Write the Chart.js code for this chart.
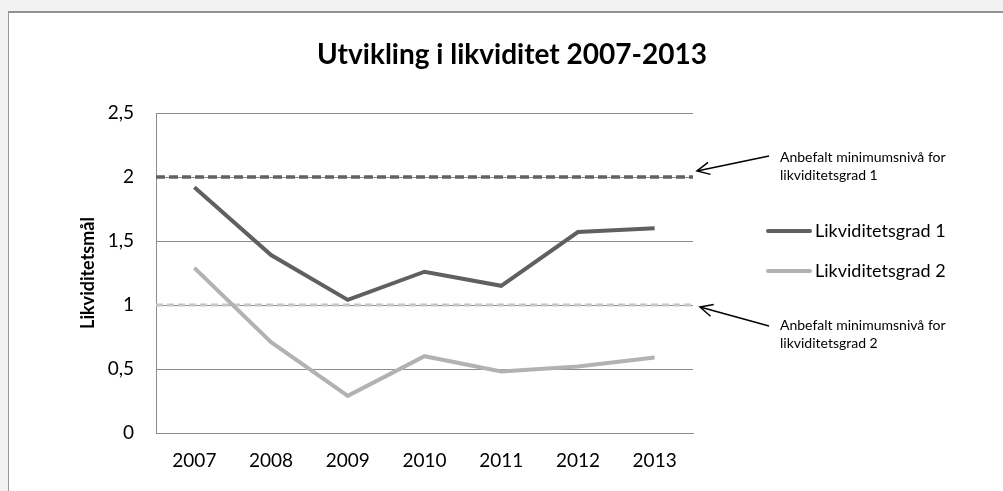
<!DOCTYPE html>
<html>
<head>
<meta charset="utf-8">
<script src="https://cdn.jsdelivr.net/npm/chart.js@4.4.1/dist/chart.umd.min.js"></script>
<style>
  html, body { margin: 0; padding: 0; overflow: hidden; background: #f2f2f2; }
  body { width: 100vw; height: 100vh; position: relative; }
  .frame { position: absolute; left: 8px; top: 11px; right: -30px; bottom: -30px; background: #fff;
    border-left: 1px solid #9a9a9a; border-top: 2px solid #929292; }
  .wrap { position: absolute; left: 0; top: 0; width: 1003px; height: 491px; }
</style>
</head>
<body>
<div class="frame"></div>
<div class="wrap"><canvas id="myChart"></canvas></div>
<script>
const years = [2007, 2008, 2009, 2010, 2011, 2012, 2013];
const grad1 = [1.92, 1.39, 1.04, 1.26, 1.15, 1.57, 1.60];
const grad2 = [1.29, 0.71, 0.29, 0.60, 0.48, 0.52, 0.59];
const seriesNames = ["Likviditetsgrad 1", "Likviditetsgrad 2"];
const minLevel1 = 2;
const minLevel2 = 1;
const yTicks = [0, 0.5, 1, 1.5, 2, 2.5];
const title = "Utvikling i likviditet 2007-2013";
const yTitle = "Likviditetsmål";
const note1 = ["Anbefalt minimumsnivå for", "likviditetsgrad 1"];
const note2 = ["Anbefalt minimumsnivå for", "likviditetsgrad 2"];

const font = "Lato, 'Open Sans', sans-serif";
const xMin = years[0] - 0.5;
const xMax = years[years.length - 1] + 0.5;

function points(vals) {
  return years.map((y, i) => ({ x: y, y: vals[i] }));
}

// title, legend and the two arrow notes
const decor = {
  id: "decor",
  afterDraw(chart) {
    const ctx = chart.ctx;
    const area = chart.chartArea;
    const ys = chart.scales.y;
    ctx.save();
    ctx.fillStyle = "#000";
    ctx.textBaseline = "middle";
    ctx.textAlign = "center";
    ctx.font = "bold 28px " + font;
    ctx.fillText(title, 512, 55);

    // legend
    ctx.textAlign = "left";
    ctx.font = "18px " + font;
    chart.data.datasets.slice(0, 2).forEach((ds, i) => {
      const y = 231 + i * 40;
      ctx.strokeStyle = ds.borderColor;
      ctx.lineWidth = 4;
      ctx.lineCap = "round";
      ctx.beginPath();
      ctx.moveTo(768, y);
      ctx.lineTo(810, y);
      ctx.stroke();
      ctx.fillText(ds.label, 815, y);
    });

    // arrows
    ctx.strokeStyle = "#000";
    ctx.lineWidth = 1.5;
    ctx.lineCap = "butt";
    ctx.font = "14px " + font;
    const notes = [
      { lines: note1, tipX: area.right + 4, tipY: ys.getPixelForValue(minLevel1) - 6, dy: -15, ty: 157 },
      { lines: note2, tipX: area.right + 7, tipY: ys.getPixelForValue(minLevel2) + 2, dy: 19, ty: 325 }
    ];
    notes.forEach(n => {
      const tx = area.right + 76, ty = n.tipY + n.dy;
      ctx.beginPath();
      ctx.moveTo(tx, ty);
      ctx.lineTo(n.tipX, n.tipY);
      ctx.stroke();
      const a = Math.atan2(ty - n.tipY, tx - n.tipX);
      ctx.beginPath();
      ctx.moveTo(n.tipX + 14 * Math.cos(a - 0.45), n.tipY + 14 * Math.sin(a - 0.45));
      ctx.lineTo(n.tipX, n.tipY);
      ctx.lineTo(n.tipX + 14 * Math.cos(a + 0.45), n.tipY + 14 * Math.sin(a + 0.45));
      ctx.stroke();
      ctx.fillText(n.lines[0], area.right + 87, n.ty);
      ctx.fillText(n.lines[1], area.right + 87, n.ty + 18);
    });
    ctx.restore();
  }
};

const data = {
  datasets: [
    { label: seriesNames[0], data: points(grad1), borderColor: "#606060", borderWidth: 4, order: 1 },
    { label: seriesNames[1], data: points(grad2), borderColor: "#b2b2b2", borderWidth: 4, order: 2 },
    { label: "min1", data: [{ x: xMin, y: minLevel1 }, { x: xMax, y: minLevel1 }],
      borderColor: "#626262", borderWidth: 3.5, borderDash: [9, 4], order: 3 },
    { label: "min2", data: [{ x: xMin, y: minLevel2 }, { x: xMax, y: minLevel2 }],
      borderColor: "#c6c6c6", borderWidth: 3, borderDash: [7, 4], order: 4 }
  ]
};

const config = {
  type: "line",
  data,
  options: {
    responsive: false,
    animation: false,
    devicePixelRatio: 1,
    layout: { padding: { top: 113, right: 310, left: 0, bottom: 0 } },
    elements: { point: { radius: 0 }, line: { tension: 0, borderCapStyle: "butt" } },
    plugins: { legend: { display: false }, title: { display: false }, tooltip: { enabled: false } },
    scales: {
      x: {
        type: "linear",
        min: xMin,
        max: xMax,
        afterBuildTicks: s => { s.ticks = years.map(v => ({ value: v })); },
        afterFit: s => { s.height = 58; },
        grid: { display: false, drawTicks: false },
        border: { color: "#8c8c8c", width: 1 },
        ticks: { callback: v => String(v), color: "#000", padding: 16, maxRotation: 0,
          font: { family: font, size: 19 } }
      },
      y: {
        min: 0,
        max: 2.5,
        afterBuildTicks: s => { s.ticks = yTicks.map(v => ({ value: v })); },
        afterFit: s => { s.width = 156; },
        grid: { color: "#8c8c8c", lineWidth: 1, drawTicks: false },
        border: { color: "#8c8c8c", width: 1 },
        ticks: { callback: v => String(v).replace(".", ","), color: "#000", padding: 22,
          font: { family: font, size: 19 } },
        title: { display: true, text: yTitle, color: "#000", padding: { top: 77, bottom: 0 },
          font: { family: font, size: 18, weight: "bold" } }
      }
    }
  },
  plugins: [decor]
};

const canvas = document.getElementById("myChart");
canvas.width = 1003;
canvas.height = 491;
new Chart(canvas, config);
</script>
</body>
</html>
